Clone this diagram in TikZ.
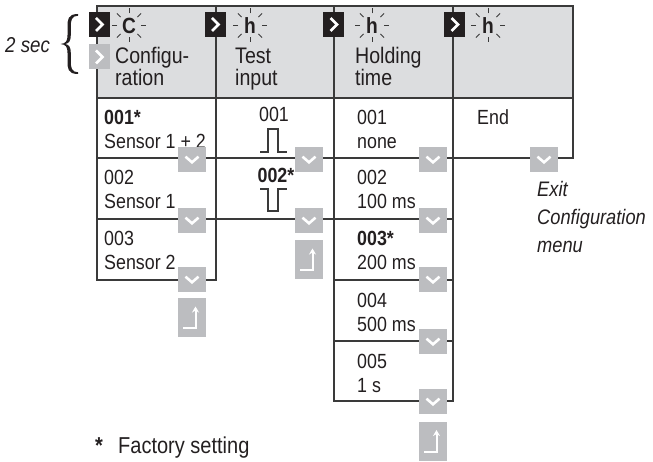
\documentclass[tikz,border=0pt]{standalone}
\usepackage{fontspec}
\setmainfont{Liberation Sans}[FakeStretch=0.87]
\usetikzlibrary{arrows.meta}
\definecolor{hdr}{HTML}{DCDDDF}
\definecolor{btn}{HTML}{BCBDC0}
\definecolor{blk}{HTML}{231F20}
\definecolor{ln}{HTML}{3A3A3A}
\definecolor{txt}{HTML}{231F20}
\begin{document}
\begin{tikzpicture}[x=1pt,y=-1pt,line join=miter]
\useasboundingbox (0,0) rectangle (653,462);
\tikzset{
  frame/.style={draw=ln,line width=1.2pt},
  hd/.style={font=\fontsize{22.5}{22}\selectfont,anchor=base west,inner sep=0pt,text=txt},
  rw/.style={font=\fontsize{20.5}{24}\selectfont,anchor=base west,inner sep=0pt,text=txt},
  rwc/.style={rw,anchor=base},
  it/.style={font=\fontsize{21}{24}\selectfont\itshape,anchor=base west,inner sep=0pt,text=txt},
  dnbtn/.pic={
    \fill[btn] (-14,-12.5) rectangle (14,12.5);
    \draw[white,line width=2.6pt,line cap=butt] (-6.5,-2.8) -- (0,2.8) -- (6.5,-2.8);
  },
  retbtn/.pic={
    \fill[btn] (-14,-19.5) rectangle (14,19.5);
    \draw[white,line width=2pt,-{Stealth[length=6pt,width=7pt]}] (-9,10.5) -- (3.5,10.5) -- (3.5,-11);
  },
  rtbtn/.pic={
    \fill[#1] (-10.5,-12.5) rectangle (10.5,12.5);
    \draw[white,line width=2.8pt] (-3,-6.5) -- (3.5,0) -- (-3,6.5);
  },
  blink/.pic={
    \node[font=\fontsize{22}{22}\selectfont\bfseries,inner sep=0pt,text=txt] (-letter) at (0,0) {#1};
    \foreach \a in {0,45,...,315}
      \draw[ln,line width=0.9pt] (\a:12) -- (\a:17);
  }
}
% header
\draw[frame,fill=hdr] (97,6) rectangle (573,98);
\foreach \x in {216,334,453} \draw[frame] (\x,6) -- (\x,98);
% column 1
\draw[frame] (97,98) rectangle (216,280);
\draw[frame] (97,158) -- (216,158) (97,219) -- (216,219);
% column 2
\draw[frame] (216,98) rectangle (334,219);
\draw[frame] (216,158) -- (334,158);
% column 3
\draw[frame] (334,98) rectangle (453,401);
\foreach \y in {158,219,280,341} \draw[frame] (334,\y) -- (453,\y);
% column 4
\draw[frame] (453,98) rectangle (573,158);

% header buttons and icons
\pic (k1) at (99,24.5) {rtbtn=blk};
\pic (g1) at (99,57) {rtbtn=btn};
\pic (k2) at (215,24.5) {rtbtn=blk};
\pic (k3) at (333.5,24.5) {rtbtn=blk};
\pic (k4) at (454.5,24.5) {rtbtn=blk};
\pic (i1) at (129,25.5) {blink=C};
\pic (i2) at (250,25.5) {blink=h};
\pic (i3) at (372,25.5) {blink=h};
\pic (i4) at (488,25.5) {blink=h};

% header text
\node[hd] (h1a) at (115,64) {Configu-};
\node[hd] (h1b) at (115,86) {ration};
\node[hd] (h2a) at (235,64) {Test};
\node[hd] (h2b) at (235,86) {input};
\node[hd] (h3a) at (355,64) {Holding};
\node[hd] (h3b) at (355,86) {time};

% brace and 2 sec
\fill[txt] (78,14) .. controls (67.5,14) and (67.5,20) .. (67.5,27) -- (67.5,35)
  .. controls (67.5,41) and (66,43.5) .. (60.5,44)
  .. controls (66,44.5) and (67.5,47) .. (67.5,53) -- (67.5,61)
  .. controls (67.5,68) and (67.5,74) .. (78,74)
  -- (78,72.3) .. controls (71.5,72) and (70.8,68) .. (70.8,61) -- (70.8,53)
  .. controls (70.8,47) and (69,45) .. (65.5,44)
  .. controls (69,43) and (70.8,41) .. (70.8,35) -- (70.8,27)
  .. controls (70.8,20) and (71.5,16) .. (78,15.7) -- cycle;
\node[it,font=\fontsize{21.5}{24}\selectfont\itshape] (sec) at (5,53) {2 sec};

% column 1 text
\node[rw] (a1) at (104,125) {\textbf{001*}};
\node[rw] (a1b) at (104,149) {Sensor 1 + 2};
\node[rw] (a2) at (104,185) {002};
\node[rw] (a2b) at (104,209) {Sensor 1};
\node[rw] (a3) at (104,246) {003};
\node[rw] (a3b) at (104,270) {Sensor 2};

% column 2 text and pulses
\node[rwc] (b1) at (274,122) {001};
\draw[ln,line width=1.1pt] (260,152) -- (268,152) -- (268,129) -- (278,129) -- (278,152) -- (287,152);
\node[rwc] (b2) at (276,183) {\textbf{002*}};
\draw[ln,line width=1.1pt] (260,189) -- (268,189) -- (268,211) -- (278,211) -- (278,189) -- (287,189);

% column 3 text
\node[rw] (c1) at (357,125) {001};
\node[rw] (c1b) at (357,149) {none};
\node[rw] (c2) at (357,185) {002};
\node[rw] (c2b) at (357,209) {100 ms};
\node[rw] (c3) at (357,246) {\textbf{003*}};
\node[rw] (c3b) at (357,270) {200 ms};
\node[rw] (c4) at (357,307) {004};
\node[rw] (c4b) at (357,331) {500 ms};
\node[rw] (c5) at (357,368) {005};
\node[rw] (c5b) at (357,392) {1 s};

% column 4
\node[rw] (d1) at (477,125) {End};
\node[it] (e1) at (537,197) {Exit};
\node[it] (e2) at (537,225) {Configuration};
\node[it] (e3) at (537,253) {menu};

% buttons
\pic (p11) at (192,159.5) {dnbtn};
\pic (p12) at (192,220.5) {dnbtn};
\pic (p13) at (192,279.5) {dnbtn};
\pic (r1)  at (192,317.5) {retbtn};
\pic (p21) at (309,159.5) {dnbtn};
\pic (p22) at (309,220.5) {dnbtn};
\pic (r2)  at (309,259.5) {retbtn};
\pic (p31) at (433,159.5) {dnbtn};
\pic (p32) at (433,220.5) {dnbtn};
\pic (p33) at (433,279.5) {dnbtn};
\pic (p34) at (433,341.5) {dnbtn};
\pic (p35) at (433,401.5) {dnbtn};
\pic (r3)  at (433,441) {retbtn};
\pic (p41) at (544,159.5) {dnbtn};

% footnote
\node[font=\fontsize{23}{24}\selectfont\bfseries,anchor=base west,inner sep=0pt,text=txt] (star) at (95,453) {*};
\node[font=\fontsize{23}{24}\selectfont,anchor=base west,inner sep=0pt,text=txt] (fact) at (118,453) {Factory setting};
\end{tikzpicture}
\end{document}
